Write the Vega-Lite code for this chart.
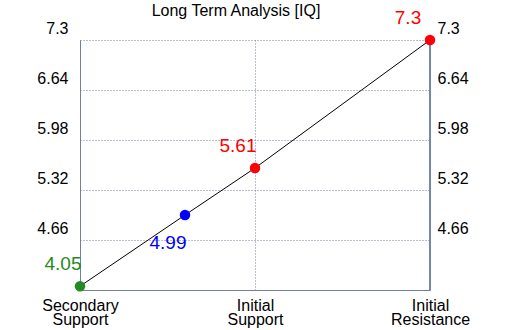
{
  "$schema": "https://vega.github.io/schema/vega-lite/v6.json",
  "width": 350,
  "height": 250,
  "autosize": "none",
  "padding": {"left": 80, "top": 40, "right": 80, "bottom": 40},
  "background": "white",
  "config": {
    "font": "Liberation Sans",
    "view": {"stroke": null},
    "axis": {"labelFont": "Liberation Sans", "labelFontSize": 16, "labelColor": "black", "domainColor": "#7080a0", "gridColor": "#7080a0", "gridDash": [1, 2], "gridOpacity": 1, "ticks": false, "title": null}
  },
  "title": {"text": "Long Term Analysis [IQ]", "fontSize": 16, "fontWeight": "normal", "font": "Liberation Sans", "color": "black", "anchor": "middle", "dx": -19, "baseline": "alphabetic", "offset": -23},
  "data": {"values": [
    {"pos": 0, "price": 4.05, "kind": "Secondary Support", "label": "4.05"},
    {"pos": 0.6, "price": 4.99, "kind": "Current", "label": "4.99"},
    {"pos": 1, "price": 5.61, "kind": "Initial Support", "label": "5.61"},
    {"pos": 2, "price": 7.3, "kind": "Initial Resistance", "label": "7.3"}
  ]},
  "layer": [
    {
      "encoding": {
        "x": {"field": "pos", "type": "quantitative", "scale": {"domain": [0, 2], "nice": false, "zero": false},
          "axis": {"values": [0, 1, 2], "grid": true, "domain": true, "labelPadding": 7, "labelLineHeight": 14, "labelBaseline": "top", "labelFlush": false, "labelAlign": "center", "labelOverlap": false,
            "labelExpr": "datum.value == 0 ? ['Secondary', 'Support'] : datum.value == 1 ? ['Initial', 'Support'] : ['Initial', 'Resistance']"}},
        "y": {"field": "price", "type": "quantitative", "scale": {"domain": [4, 7.3], "nice": false, "zero": false},
          "axis": {"values": [4.66, 5.32, 5.98, 6.64, 7.3], "format": ".2~f", "grid": true, "labelOffset": -12, "labelPadding": 12, "labelBaseline": "middle"}}
      },
      "layer": [
        {"mark": {"type": "line", "color": "black", "strokeWidth": 1}, "encoding": {}},
        {"mark": {"type": "rule", "color": "#7080a0"}, "encoding": {"x": {"datum": 2}, "y": {"datum": 4}, "y2": {"datum": 7.3}}},
        {"mark": {"type": "circle", "size": 110, "opacity": 1},
          "encoding": {"color": {"field": "kind", "type": "nominal", "legend": null,
            "scale": {"domain": ["Secondary Support", "Current", "Initial Support", "Initial Resistance"], "range": ["#228b22", "#0000ff", "#ff0000", "#ff0000"]}}}},
        {"transform": [{"filter": "datum.kind == 'Secondary Support'"}], "mark": {"type": "text", "fontSize": 19, "dx": -17, "dy": -22, "align": "center", "baseline": "middle", "color": "#228b22"}, "encoding": {"text": {"field": "label"}}},
        {"transform": [{"filter": "datum.kind == 'Current'"}], "mark": {"type": "text", "fontSize": 19, "dx": -17, "dy": 28, "align": "center", "baseline": "middle", "color": "#0000ff"}, "encoding": {"text": {"field": "label"}}},
        {"transform": [{"filter": "datum.kind == 'Initial Support'"}], "mark": {"type": "text", "fontSize": 19, "dx": -17, "dy": -22, "align": "center", "baseline": "middle", "color": "#ff0000"}, "encoding": {"text": {"field": "label"}}},
        {"transform": [{"filter": "datum.kind == 'Initial Resistance'"}], "mark": {"type": "text", "fontSize": 19, "dx": -22, "dy": -22, "align": "center", "baseline": "middle", "color": "#ff0000"}, "encoding": {"text": {"field": "label"}}}
      ]
    },
    {"mark": {"type": "point", "opacity": 0},
      "encoding": {
        "x": {"field": "pos", "type": "quantitative", "scale": {"domain": [0, 2], "nice": false, "zero": false}},
        "y": {"field": "price", "type": "quantitative", "scale": {"domain": [4, 7.3], "nice": false, "zero": false},
          "axis": {"orient": "right", "values": [4.66, 5.32, 5.98, 6.64, 7.3], "format": ".2~f", "grid": false, "domain": false, "labelOffset": -12, "labelPadding": 7, "labelBaseline": "middle"}}}}
  ],
  "resolve": {"scale": {"y": "independent"}, "axis": {"y": "independent"}}
}
